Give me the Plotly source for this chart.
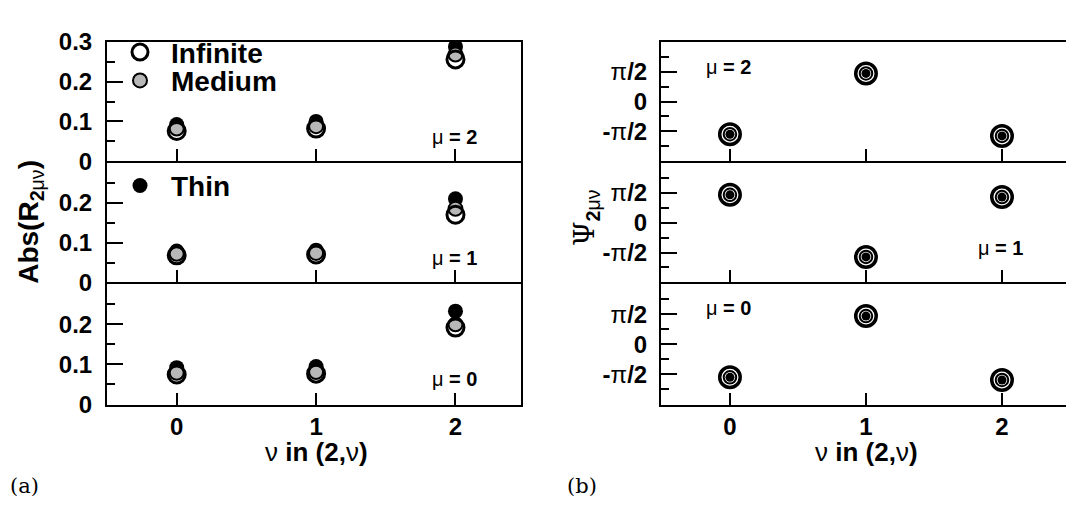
import math
import plotly.graph_objects as go

# ---------------- data ----------------
nu = [0, 1, 2]

# Abs(R_2mu nu) for mu = 2, 1, 0
abs_inf_mu2 = [0.076, 0.082, 0.256]
abs_med_mu2 = [0.082, 0.088, 0.268]
abs_thin_mu2 = [0.092, 0.100, 0.288]

abs_inf_mu1 = [0.068, 0.070, 0.170]
abs_med_mu1 = [0.072, 0.074, 0.185]
abs_thin_mu1 = [0.079, 0.081, 0.210]

abs_inf_mu0 = [0.075, 0.077, 0.192]
abs_med_mu0 = [0.079, 0.081, 0.200]
abs_thin_mu0 = [0.092, 0.095, 0.233]

# Psi_2mu nu (radians) for mu = 2, 1, 0
psi_inf_mu2 = [-1.72, 1.48, -1.81]
psi_med_mu2 = [-1.72, 1.48, -1.81]
psi_thin_mu2 = [-1.72, 1.48, -1.81]

psi_inf_mu1 = [1.47, -1.80, 1.35]
psi_med_mu1 = [1.47, -1.80, 1.35]
psi_thin_mu1 = [1.47, -1.80, 1.35]

psi_inf_mu0 = [-1.72, 1.48, -1.86]
psi_med_mu0 = [-1.72, 1.48, -1.86]
psi_thin_mu0 = [-1.72, 1.48, -1.86]

mu_values = [2, 1, 0]
abs_ticks_full = [0, 0.1, 0.2, 0.3]
abs_ticktext_full = ["0", "0.1", "0.2", "0.3"]
psi_tickvals = [-math.pi / 2, 0, math.pi / 2]

GN = "<span style='font-weight:normal'>{}</span>"
psi_ticktext = ["-" + GN.format("π") + "/2", "0", GN.format("π") + "/2"]

# ---------------- layout helpers ----------------
W, H = 1074, 508
def px_x(x):
    return x / W
def px_y(y):
    return 1 - y / H

FONT = "Liberation Sans, Arial, sans-serif"
BLACK = "black"

fig = go.Figure()

left_x = [px_x(99), px_x(513)]
right_x = [px_x(653), 1.0]
rows_px = [(21, 147), (149, 275), (277, 404)]

abs_sets = [
    (abs_inf_mu2, abs_med_mu2, abs_thin_mu2),
    (abs_inf_mu1, abs_med_mu1, abs_thin_mu1),
    (abs_inf_mu0, abs_med_mu0, abs_thin_mu0),
]
psi_sets = [
    (psi_inf_mu2, psi_med_mu2, psi_thin_mu2),
    (psi_inf_mu1, psi_med_mu1, psi_thin_mu1),
    (psi_inf_mu0, psi_med_mu0, psi_thin_mu0),
]

def axname(i, kind):
    return kind if i == 1 else f"{kind}{i}"

legend_of = {"Infinite": "legend", "Medium": "legend2", "Thin": "legend3"}

def add_points(i, inf, med, thin, right=False, with_legend=False):
    xa, ya = axname(i, "x"), axname(i, "y")
    if right:
        inf_m = dict(size=20.5, color="white", symbol="circle", line=dict(color=BLACK, width=3.5))
        med_m = dict(size=12.5, color="white", symbol="circle", line=dict(color=BLACK, width=2))
        thin_m = dict(size=9, color=BLACK, symbol="circle", line=dict(width=0))
        order = [("Infinite", inf, inf_m), ("Medium", med, med_m), ("Thin", thin, thin_m)]
    else:
        inf_m = dict(size=17, color="rgba(0,0,0,0)", symbol="circle", line=dict(color=BLACK, width=3))
        med_m = dict(size=14, color="#b8b8b8", symbol="circle", line=dict(color=BLACK, width=2))
        thin_m = dict(size=15, color=BLACK, symbol="circle", line=dict(width=0))
        order = [("Thin", thin, thin_m), ("Medium", med, med_m), ("Infinite", inf, inf_m)]
    for name, vals, m in order:
        fig.add_trace(go.Scatter(
            x=nu, y=vals, mode="markers", name=name, marker=m,
            xaxis=xa, yaxis=ya, showlegend=with_legend, legend=legend_of[name],
        ))

for r in range(3):
    inf, med, thin = abs_sets[r]
    add_points(r + 1, inf, med, thin, right=False, with_legend=(r == 0))
for r in range(3):
    inf, med, thin = psi_sets[r]
    add_points(r + 4, inf, med, thin, right=True)

tickfont = dict(family=FONT, size=24, color=BLACK, weight="bold")
axis_common = dict(showline=True, linecolor=BLACK, linewidth=2, showgrid=False,
                   zeroline=False, ticks="inside", tickcolor=BLACK, tickwidth=2)

layout = {}
for i in range(1, 7):
    r = (i - 1) % 3
    right = i >= 4
    top, bot = rows_px[r]
    xd = right_x if right else left_x
    xr = [-0.507, (1074 - 722) / 136.0] if right else [-0.5, 2.47]
    layout[f"xaxis{'' if i == 1 else i}"] = dict(
        axis_common, domain=xd, range=xr, anchor=axname(i, "y"),
        tickvals=nu, ticktext=[str(v) for v in nu], ticklen=12, mirror=True,
        showticklabels=(r == 2), tickfont=tickfont, ticklabelstandoff=0,
    )
    if right:
        ydict = dict(
            axis_common, domain=[px_y(bot), px_y(top)], range=[-math.pi, math.pi],
            anchor=axname(i, "x"), tickvals=psi_tickvals, ticktext=psi_ticktext,
            ticklen=16, mirror=False, tickfont=tickfont, ticklabelstandoff=7,
            minor=dict(tickvals=[-3 * math.pi / 4, -math.pi / 4, math.pi / 4, 3 * math.pi / 4],
                       ticks="inside", ticklen=8, tickwidth=2, tickcolor=BLACK, showgrid=False),
        )
    else:
        tv = abs_ticks_full if r == 0 else abs_ticks_full[:3]
        tt = abs_ticktext_full if r == 0 else abs_ticktext_full[:3]
        ydict = dict(
            axis_common, domain=[px_y(bot), px_y(top)], range=[0, 0.3],
            anchor=axname(i, "x"), tickvals=tv, ticktext=tt,
            ticklen=16, mirror=True, tickfont=tickfont, ticklabelstandoff=8,
            minor=dict(tickvals=[0.05, 0.15, 0.25], ticks="inside", ticklen=8,
                       tickwidth=2, tickcolor=BLACK, showgrid=False),
        )
    layout[f"yaxis{'' if i == 1 else i}"] = ydict

# right-side stub ticks of panel (b) (frame cut at the image edge)
for k, i in enumerate([4, 5, 6]):
    j = 7 + k
    layout[f"yaxis{j}"] = dict(
        overlaying=axname(i, "y"), anchor=axname(i, "x"), side="right",
        range=[-math.pi, math.pi], showline=False, showgrid=False, zeroline=False,
        ticks="inside", ticklen=6, tickwidth=2, tickcolor=BLACK, showticklabels=False,
        tickvals=[-3 * math.pi / 4, -math.pi / 2, -math.pi / 4, 0, math.pi / 4,
                  math.pi / 2, 3 * math.pi / 4],
    )
    fig.add_trace(go.Scatter(x=[None], y=[None], xaxis=axname(i, "x"), yaxis=f"y{j}",
                             showlegend=False, hoverinfo="skip", mode="markers"))

annotations = []
def ann(text, x, y, size, **kw):
    d = dict(text=text, x=px_x(x), y=px_y(y), xref="paper", yref="paper",
             showarrow=False, font=dict(family=FONT, size=size, color=BLACK, weight="bold"),
             xanchor="center", yanchor="middle")
    d.update(kw)
    annotations.append(d)

# mu labels
mu_left_pos = [(446, 121), (446, 249), (446, 377)]
mu_right_pos = [(720, 47), (992, 239), (720, 302)]
for m, (x, y) in zip(mu_values, mu_left_pos):
    ann(GN.format("μ") + f" = {m}", x, y, 20)
for m, (x, y) in zip(mu_values, mu_right_pos):
    ann(GN.format("μ") + f" = {m}", x, y, 20)

# axis titles
xtitle = GN.format("ν") + " in (2," + GN.format("ν") + ")"
ann(xtitle, 308, 454, 26)
ann(xtitle, 858, 454, 26)
ann("Abs(R<sub>2" + GN.format("μν") + "</sub>)", 23, 211, 28, textangle=-90)
ann("<span style='font-family:DejaVu Serif;font-weight:normal'>Ψ</span><sub>2"
    + GN.format("μν") + "</sub>", 578, 207, 28, textangle=-90)

# panel labels
for lab, x in (("(a)", 0), ("(b)", 557)):
    annotations.append(dict(text=lab, x=px_x(x), y=px_y(490), xref="paper", yref="paper",
                            showarrow=False, xanchor="left", yanchor="middle",
                            font=dict(family="DejaVu Serif, serif", size=21, color=BLACK)))

legend_font = dict(family=FONT, size=28, color=BLACK, weight="bold")
def leg(y):
    return dict(x=px_x(101), y=px_y(y), xanchor="left", yanchor="middle",
                bgcolor="rgba(0,0,0,0)", font=legend_font, itemwidth=52)

fig.update_layout(
    width=W, height=H,
    margin=dict(l=0, r=0, t=0, b=0),
    paper_bgcolor="white", plot_bgcolor="white",
    annotations=annotations,
    legend=leg(32), legend2=leg(62), legend3=leg(173),
    **layout,
)

fig.write_html("out.html")
